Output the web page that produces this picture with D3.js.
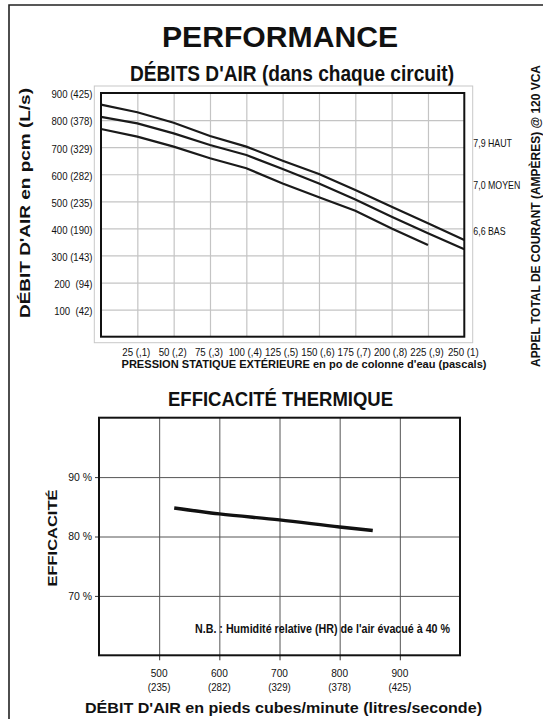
<!DOCTYPE html>
<html><head><meta charset="utf-8">
<script src="https://cdn.jsdelivr.net/npm/d3@7"></script>
<style>
html,body{margin:0;padding:0;background:#fff;}
svg{display:block;font-family:"Liberation Sans",Arial,Helvetica,sans-serif;}
text{fill:#111;white-space:pre;}
</style></head>
<body>
<svg id="c" width="543" height="719"></svg>
<script>
// ---------- DATA ----------
const pressurePa = [0, 25, 50, 75, 100, 125, 150, 175, 200, 225, 250];
const pressureTicks = [25, 50, 75, 100, 125, 150, 175, 200, 225, 250];
const pressureLabels = ["25 (,1)", "50 (,2)", "75 (,3)", "100 (,4)", "125 (,5)", "150 (,6)", "175 (,7)", "200 (,8)", "225 (,9)", "250 (1)"];
const flowTicks = [100, 200, 300, 400, 500, 600, 700, 800, 900];
const flowLabels = ["100  (42)", "200  (94)", "300 (143)", "400 (190)", "500 (235)", "600 (282)", "700 (329)", "800 (378)", "900 (425)"];
const hautValues  = [857, 829, 790, 741, 702, 650, 601, 542, 480, 419, 357];
const moyenValues = [812, 788, 751, 708, 671, 619, 566, 507, 443, 382, 323];
const basValues   = [767, 739, 702, 659, 622, 566, 515, 465, 400, 339];
const speedNames  = ["7,9 HAUT", "7,0 MOYEN", "6,6 BAS"];
const speedLabelLevels = [714, 560, 388];

const effCfm    = [525, 600, 700, 800, 855];
const effValues = [84.8, 83.8, 82.8, 81.6, 81.0];
const effXTicks = [500, 600, 700, 800, 900];
const effXSub   = ["(235)", "(282)", "(329)", "(378)", "(425)"];
const effYTicks = [70, 80, 90];
const effYLabels = ["70 %", "80 %", "90 %"];

// ---------- HELPERS ----------
function fit(sel, w){ sel.attr("textLength", w).attr("lengthAdjust", "spacingAndGlyphs"); return sel; }
function condense(sel, f){
  sel.each(function(){ const l = this.getComputedTextLength(); this.setAttribute("textLength", l*f); this.setAttribute("lengthAdjust","spacingAndGlyphs"); });
  return sel;
}

const svg = d3.select("#c");

// page frame
svg.append("path").attr("d", "M9,719 L9,5 L543,5").attr("fill","none").attr("stroke","#222").attr("stroke-width",1.6);

// titles
fit(svg.append("text").attr("x", 280).attr("y", 46.7).attr("text-anchor","middle")
  .attr("font-size", 29).attr("font-weight","bold").text("PERFORMANCE"), 236);
fit(svg.append("text").attr("x", 292).attr("y", 80.5).attr("text-anchor","middle")
  .attr("font-size", 22).attr("font-weight","bold").text("DÉBITS D'AIR (dans chaque circuit)"), 324);

// ---------- TOP CHART ----------
const T = {l:101, r:464.3, t:93, b:336.7};
const x1 = d3.scaleLinear().domain([0, 250]).range([T.l, T.r]);
const y1 = d3.scaleLinear().domain([0, 900]).range([T.b, T.t]);

// outer light box
svg.append("rect").attr("x", 94.3).attr("y", 86).attr("width", 472.7-94.3).attr("height", 342.7-86)
  .attr("fill","none").attr("stroke","#c8c8c8").attr("stroke-width",1);

const g1 = svg.append("g");
g1.append("g").attr("transform", `translate(0,${T.b})`)
  .call(d3.axisBottom(x1).tickValues(pressureTicks.slice(0,-1)).tickSize(-(T.b-T.t)).tickFormat(""))
  .call(g => { g.select(".domain").remove(); g.selectAll("line").attr("stroke","#c4c4c4").attr("stroke-width",1.2); });
g1.append("g").attr("transform", `translate(${T.l},0)`)
  .call(d3.axisLeft(y1).tickValues(flowTicks.slice(0,-1)).tickSize(-(T.r-T.l)).tickFormat(""))
  .call(g => { g.select(".domain").remove(); g.selectAll("line").attr("stroke","#c4c4c4").attr("stroke-width",1.2); });

const line1 = d3.line().x((d,i)=>x1(pressurePa[i])).y(d=>y1(d));
[hautValues, moyenValues, basValues].forEach(v=>{
  g1.append("path").datum(v).attr("d", line1).attr("fill","none").attr("stroke","#1a1a1a").attr("stroke-width",2.2);
});
g1.append("rect").attr("x",T.l).attr("y",T.t).attr("width",T.r-T.l).attr("height",T.b-T.t)
  .attr("fill","none").attr("stroke","#111").attr("stroke-width",2);

// y labels
condense(g1.selectAll(".yl").data(flowTicks).join("text").attr("class","yl")
  .attr("x", 92.5).attr("y", d=>y1(d)+1.5).attr("dy","0.35em").attr("text-anchor","end")
  .attr("font-size",11).text((d,i)=>flowLabels[i]), 0.87);
// x labels
condense(g1.selectAll(".xl").data(pressureTicks).join("text").attr("class","xl")
  .attr("x", d=>x1(d)-1).attr("y", 356).attr("text-anchor","middle")
  .attr("font-size",11).text((d,i)=>pressureLabels[i]), 0.88);
// speed labels
condense(g1.selectAll(".sl").data(speedNames).join("text").attr("class","sl")
  .attr("x", 473.3).attr("y", (d,i)=>y1(speedLabelLevels[i])).attr("dy","0.35em")
  .attr("font-size",11).text(d=>d), 0.8);

// axis titles
fit(svg.append("text").attr("transform","translate(30,203) rotate(-90)").attr("text-anchor","middle")
  .attr("font-size",14).attr("font-weight","bold").text("DÉBIT D'AIR en pcm (L/s)"), 230);
fit(svg.append("text").attr("x",304).attr("y",367.5).attr("text-anchor","middle")
  .attr("font-size",11.5).attr("font-weight","bold").text("PRESSION STATIQUE EXTÉRIEURE en po de colonne d'eau (pascals)"), 365);
fit(svg.append("text").attr("transform","translate(540,216) rotate(-90)").attr("text-anchor","middle")
  .attr("font-size",12).attr("font-weight","bold").text("APPEL TOTAL DE COURANT (AMPÈRES) @ 120 VCA"), 302);

// ---------- BOTTOM CHART ----------
fit(svg.append("text").attr("x", 280.5).attr("y", 405.5).attr("text-anchor","middle")
  .attr("font-size", 21).attr("font-weight","bold").text("EFFICACITÉ THERMIQUE"), 225);

const B = {l:99, r:460, t:417.7, b:655.3};
const x2 = d3.scaleLinear().domain([400, 1000]).range([B.l, B.r]);
const y2 = d3.scaleLinear().domain([60, 100]).range([B.b, B.t]);
const g2 = svg.append("g");

g2.append("g").attr("transform", `translate(0,${B.b})`)
  .call(d3.axisBottom(x2).tickValues(effXTicks).tickSize(-(B.b-B.t)).tickFormat(""))
  .call(g => { g.select(".domain").remove(); g.selectAll("line").attr("stroke","#555").attr("stroke-width",1); });
g2.append("g").attr("transform", `translate(${B.l},0)`)
  .call(d3.axisLeft(y2).tickValues(effYTicks).tickSize(-(B.r-B.l)).tickFormat(""))
  .call(g => { g.select(".domain").remove(); g.selectAll("line").attr("stroke","#555").attr("stroke-width",1); });
// outside tick marks
g2.append("g").attr("transform", `translate(0,${B.b})`)
  .call(d3.axisBottom(x2).tickValues(effXTicks).tickSize(5).tickFormat(""))
  .call(g => { g.select(".domain").remove(); g.selectAll("line").attr("stroke","#333").attr("stroke-width",1); });
g2.append("g").attr("transform", `translate(${B.l},0)`)
  .call(d3.axisLeft(y2).tickValues(effYTicks).tickSize(4).tickFormat(""))
  .call(g => { g.select(".domain").remove(); g.selectAll("line").attr("stroke","#333").attr("stroke-width",1); });

const line2 = d3.line().x((d,i)=>x2(effCfm[i])).y(d=>y2(d)).curve(d3.curveMonotoneX);
g2.append("path").datum(effValues).attr("d", line2).attr("fill","none").attr("stroke","#111").attr("stroke-width",3.4);

g2.append("rect").attr("x",B.l).attr("y",B.t).attr("width",B.r-B.l).attr("height",B.b-B.t)
  .attr("fill","none").attr("stroke","#111").attr("stroke-width",2);

condense(g2.selectAll(".ey").data(effYTicks).join("text").attr("class","ey")
  .attr("x", 92).attr("y", d=>y2(d)).attr("dy","0.35em").attr("text-anchor","end")
  .attr("font-size",11).text((d,i)=>effYLabels[i]), 0.95);
condense(g2.selectAll(".ex").data(effXTicks).join("text").attr("class","ex")
  .attr("x", d=>x2(d)).attr("y", 676.5).attr("text-anchor","middle")
  .attr("font-size",11).text(d=>d), 0.92);
condense(g2.selectAll(".es").data(effXTicks).join("text").attr("class","es")
  .attr("x", d=>x2(d)).attr("y", 691).attr("text-anchor","middle")
  .attr("font-size",11).text((d,i)=>effXSub[i]), 0.88);

fit(svg.append("text").attr("x", 322.5).attr("y", 632.5).attr("text-anchor","middle")
  .attr("font-size",12.5).attr("font-weight","bold").text("N.B. : Humidité relative (HR) de l'air évacué à 40 %"), 255);

fit(svg.append("text").attr("transform","translate(57,538) rotate(-90)").attr("text-anchor","middle")
  .attr("font-size",13).attr("font-weight","bold").text("EFFICACITÉ"), 97);
fit(svg.append("text").attr("x", 283.5).attr("y", 713).attr("text-anchor","middle")
  .attr("font-size",14).attr("font-weight","bold").text("DÉBIT D'AIR en pieds cubes/minute (litres/seconde)"), 397);
</script>
</body></html>
